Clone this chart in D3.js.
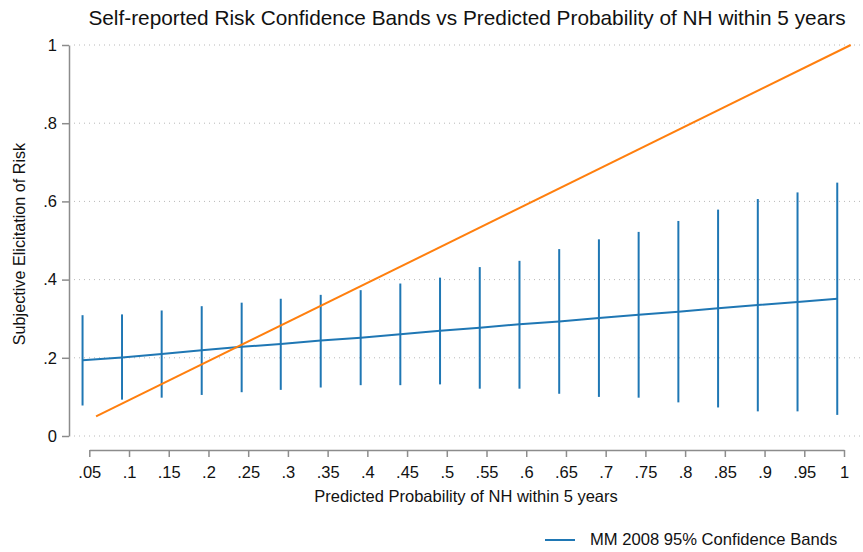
<!DOCTYPE html>
<html>
<head>
<meta charset="utf-8">
<script src="https://cdn.jsdelivr.net/npm/d3@7"></script>
<style>
  html, body { margin: 0; padding: 0; background: #fff; }
  svg { display: block; font-family: "Liberation Sans", Arial, sans-serif; }
</style>
</head>
<body>
<svg id="chart" width="863" height="552"></svg>
<script>
// Predicted probability bins (x) and self-reported risk bands (y)
const binX      = [0.0415, 0.0912, 0.1411, 0.1915, 0.2418, 0.2910, 0.3413, 0.3916, 0.4415, 0.4915,
                   0.5415, 0.5915, 0.6415, 0.6915, 0.7415, 0.7915, 0.8415, 0.8915, 0.9415, 0.9915];
const bandLow   = [0.078, 0.093, 0.098, 0.105, 0.112, 0.118, 0.124, 0.130, 0.130, 0.132,
                   0.121, 0.121, 0.108, 0.100, 0.098, 0.086, 0.073, 0.063, 0.063, 0.054];
const bandHigh  = [0.309, 0.311, 0.321, 0.332, 0.341, 0.351, 0.361, 0.373, 0.390, 0.405,
                   0.432, 0.448, 0.478, 0.503, 0.522, 0.550, 0.579, 0.606, 0.623, 0.648];
const bandMid   = [0.194, 0.201, 0.210, 0.219, 0.228, 0.235, 0.244, 0.251, 0.260, 0.269,
                   0.277, 0.286, 0.293, 0.302, 0.310, 0.318, 0.327, 0.335, 0.343, 0.351];
// 45-degree reference line endpoints
const refX      = [0.0585, 1.0085];
const refY      = [0.05, 1.0];

const xTicks = [0.05,0.1,0.15,0.2,0.25,0.3,0.35,0.4,0.45,0.5,0.55,0.6,0.65,0.7,0.75,0.8,0.85,0.9,0.95,1];
const yTicks = [0, 0.2, 0.4, 0.6, 0.8, 1];

const fmt = v => (v === 0 || v === 1) ? String(v) : String(+v.toFixed(2)).replace(/^0/, "");

const blue = "#1f77b4", orange = "#ff7f0e", axisCol = "#8c8c8c";
const FONT = "Liberation Sans, Arial, sans-serif";

const svg = d3.select("#chart");
const x = d3.scaleLinear().domain([0.05, 1]).range([89.3, 844]);
const y = d3.scaleLinear().domain([0, 1]).range([436, 45]);

// Title
svg.append("text").attr("x", 467).attr("y", 25).attr("text-anchor", "middle")
  .attr("font-size", 20.8).attr("fill", "#111")
  .text("Self-reported Risk Confidence Bands vs Predicted Probability of NH within 5 years");

// Dotted gridlines
svg.append("g").selectAll("line").data(yTicks).join("line")
  .attr("x1", 74).attr("x2", 860)
  .attr("y1", d => y(d)).attr("y2", d => y(d))
  .attr("stroke", "#b8b8b8").attr("stroke-width", 1).attr("stroke-dasharray", "1,4");

// Y axis
const yAxis = svg.append("g").attr("transform", "translate(69,0)")
  .call(d3.axisLeft(y).tickValues(yTicks).tickFormat(fmt).tickSize(7).tickSizeOuter(0).tickPadding(5));
yAxis.select(".domain").attr("stroke", axisCol).attr("stroke-width", 1.5);
yAxis.selectAll(".tick line").attr("stroke", axisCol).attr("stroke-width", 1.5);
yAxis.selectAll("text").attr("font-size", 16.5).attr("fill", "#111").attr("font-family", FONT);

// X axis
const xAxis = svg.append("g").attr("transform", "translate(0,450)")
  .call(d3.axisBottom(x).tickValues(xTicks).tickFormat(fmt).tickSize(7).tickSizeOuter(0).tickPadding(9));
xAxis.select(".domain").attr("stroke", axisCol).attr("stroke-width", 1.5);
xAxis.selectAll(".tick line").attr("stroke", axisCol).attr("stroke-width", 1.5);
xAxis.selectAll("text").attr("font-size", 16.5).attr("fill", "#111").attr("font-family", FONT);

// Axis titles
svg.append("text").attr("transform", "translate(25,244) rotate(-90)")
  .attr("text-anchor", "middle").attr("font-size", 16.2).attr("fill", "#111")
  .text("Subjective Elicitation of Risk");
svg.append("text").attr("x", 466).attr("y", 502).attr("text-anchor", "middle")
  .attr("font-size", 16.5).attr("fill", "#111")
  .text("Predicted Probability of NH within 5 years");

// Confidence bands
svg.append("g").selectAll("line").data(binX).join("line")
  .attr("x1", d => x(d)).attr("x2", d => x(d))
  .attr("y1", (d, i) => y(bandLow[i])).attr("y2", (d, i) => y(bandHigh[i]))
  .attr("stroke", blue).attr("stroke-width", 2);

// Fitted line through band centres
svg.append("path").datum(binX.map((d, i) => [d, bandMid[i]]))
  .attr("d", d3.line().x(d => x(d[0])).y(d => y(d[1])))
  .attr("fill", "none").attr("stroke", blue).attr("stroke-width", 2);

// 45-degree line
svg.append("path").datum(refX.map((d, i) => [d, refY[i]]))
  .attr("d", d3.line().x(d => x(d[0])).y(d => y(d[1])))
  .attr("fill", "none").attr("stroke", orange).attr("stroke-width", 2);

// Legend
const lg = svg.append("g");
lg.append("line").attr("x1", 545).attr("x2", 575).attr("y1", 540).attr("y2", 540)
  .attr("stroke", blue).attr("stroke-width", 2);
lg.append("text").attr("x", 590).attr("y", 545).attr("font-size", 16.6).attr("fill", "#111")
  .text("MM 2008 95% Confidence Bands");
</script>
</body>
</html>
